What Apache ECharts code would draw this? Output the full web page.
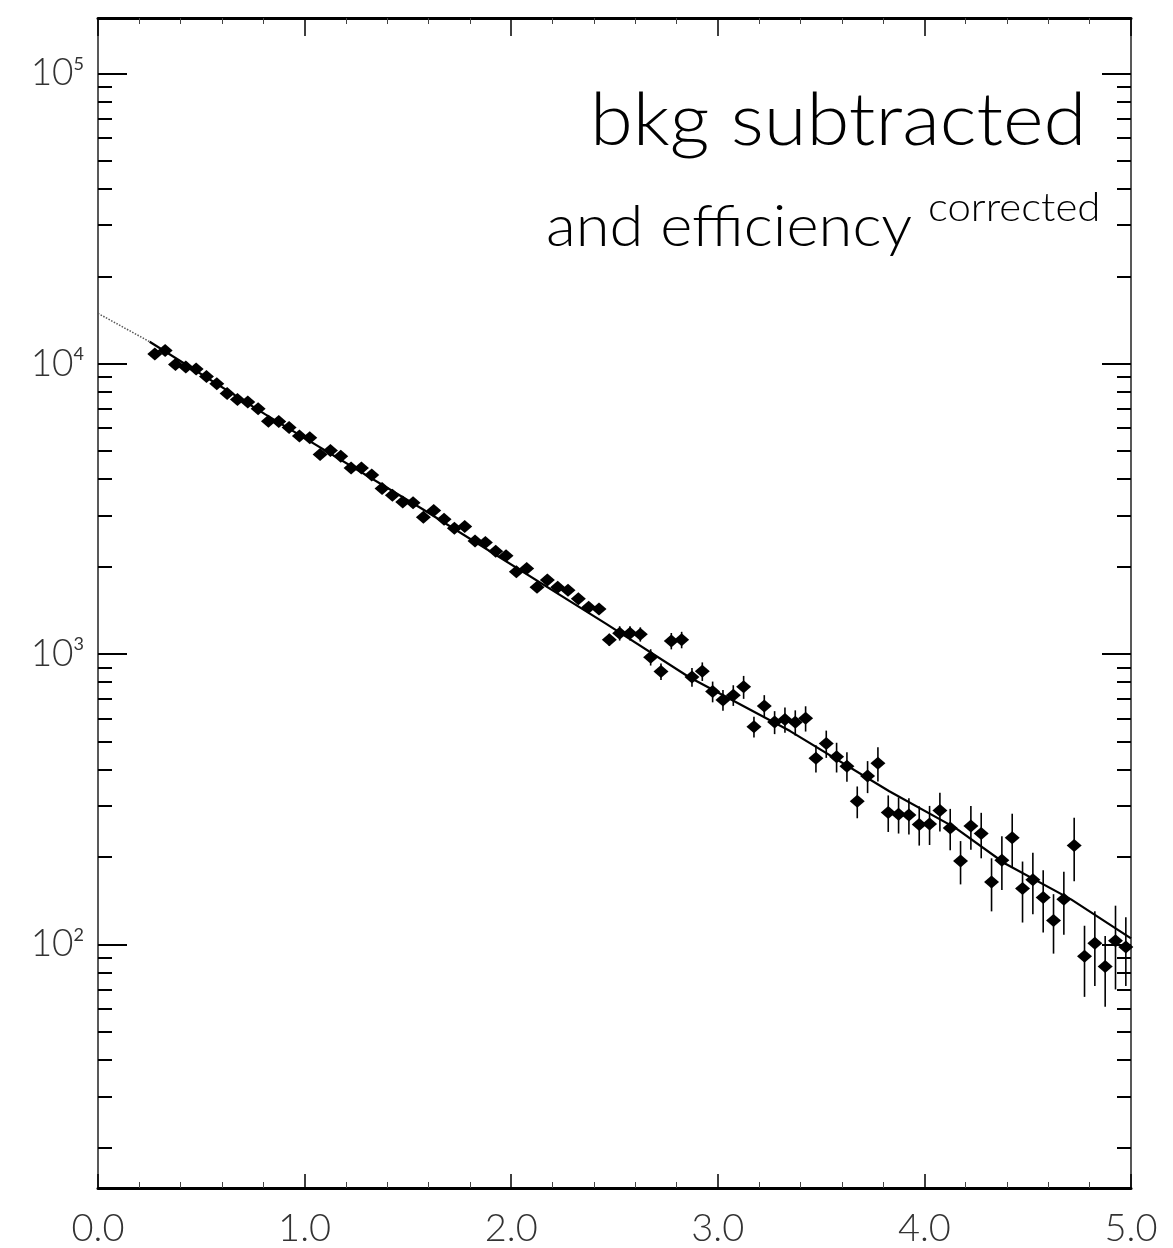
<!DOCTYPE html>
<html>
<head>
<meta charset="utf-8">
<script src="https://cdn.jsdelivr.net/npm/echarts@6/dist/echarts.min.js"></script>
<style>
html,body{margin:0;padding:0;background:#fff;}
#chart{width:1173px;height:1248px;}
</style>
</head>
<body>
<div id="chart"></div>
<script>
// ---- data ----
const xValues = [
  0.275,0.325,0.375,0.425,0.475,0.525,0.575,0.625,0.675,0.725,
  0.775,0.825,0.875,0.925,0.975,1.025,1.075,1.125,1.175,1.225,
  1.275,1.325,1.375,1.425,1.475,1.525,1.575,1.625,1.675,1.725,
  1.775,1.825,1.875,1.925,1.975,2.025,2.075,2.125,2.175,2.225,
  2.275,2.325,2.375,2.425,2.475,2.525,2.575,2.625,2.675,2.725,
  2.775,2.825,2.875,2.925,2.975,3.025,3.075,3.125,3.175,3.225,
  3.275,3.325,3.375,3.425,3.475,3.525,3.575,3.625,3.675,3.725,
  3.775,3.825,3.875,3.925,3.975,4.025,4.075,4.125,4.175,4.225,
  4.275,4.325,4.375,4.425,4.475,4.525,4.575,4.625,4.675,4.725,
  4.775,4.825,4.875,4.925,4.975
];
const yValues = [
  10800,11100,9940,9740,9580,9030,8520,7900,7520,7380,
  6990,6340,6320,6030,5640,5560,4870,5020,4800,4370,
  4370,4140,3720,3520,3340,3320,2960,3120,2910,2710,
  2750,2450,2420,2260,2180,1920,1970,1700,1800,1700,
  1660,1550,1450,1430,1120,1180,1180,1170,976,871,
  1110,1120,834,872,743,695,722,771,562,662,
  583,595,582,601,438,492,443,411,311,380,
  421,285,281,279,259,260,289,252,194,256,
  241,164,195,233,156,167,145,121,143,219,
  91,101,84,103,98
];
const yErrors = [
  160,170,150,150,150,140,135,130,125,125,
  120,115,115,110,105,105,100,100,98,95,
  95,92,88,85,83,83,78,80,77,75,
  75,72,71,70,68,65,66,62,63,62,
  61,59,57,57,54,67,67,66,63,57,
  72,73,62,64,61,57,59,70,46,60,
  53,59,58,60,47,53,52,48,39,48,
  57,41,40,40,40,40,44,41,33,44,
  43,34,41,49,37,40,35,28,35,54,
  25,29,23,33,26
];
// fitted curve (solid) and its extrapolation to 0 (dotted)
const fitX = [0.25, 0.81, 1.57, 2.46, 2.86, 3.35, 3.83, 4.15, 4.39, 4.71, 5.0];
const fitY = [11900, 6690, 3160, 1270, 834, 543, 337, 252, 190, 143, 105];
const extX = [0.0, 0.25];
const extY = [14900, 11900];
// axis ticks
const xTickLabels = ['0.0','1.0','2.0','3.0','4.0','5.0'];
const yMajorTicks = [100, 1000, 10000, 100000];
const yMajorLabels = ['2','3','4','5'];
const yMinorTicks = [
  20,30,40,50,60,70,80,90,
  200,300,400,500,600,700,800,900,
  2000,3000,4000,5000,6000,7000,8000,9000,
  20000,30000,40000,50000,60000,70000,80000,90000
];
const noteLine1 = 'bkg subtracted';
const noteLine2a = 'and efficiency';
const noteLine2b = 'corrected';

// ---- build ----
const points = xValues.map((x, i) => [x, yValues[i]]);
const bars = xValues.map((x, i) => [x, yValues[i], yErrors[i]]);
const fit = fitX.map((x, i) => [x, fitY[i]]);
const ext = extX.map((x, i) => [x, extY[i]]);

const Y_MIN = 14.5, Y_MAX = 155000;
const labelFont = 'Lato';
const ink = '#000';

function yAxisDef(pos, major) {
  return {
    type: 'log', logBase: 10, min: Y_MIN, max: Y_MAX, position: pos,
    axisLine: { show: major, lineStyle: { color: '#222', width: 1.5 } },
    axisTick: { show: true, inside: true, length: major ? 29 : 14,
      customValues: major ? yMajorTicks : yMinorTicks,
      lineStyle: { color: ink, width: 2 } },
    axisLabel: (major && pos === 'left') ? {
      show: true, customValues: yMajorTicks, margin: 14,
      formatter: function (v) {
        const idx = yMajorTicks.indexOf(v);
        return '{b|10}{s|' + (idx >= 0 ? yMajorLabels[idx] : '') + '}';
      },
      rich: {
        b: { fontSize: 37, fontFamily: labelFont, fontWeight: 300, color: '#333' },
        s: { fontSize: 18, fontFamily: labelFont, color: '#333', verticalAlign: 'top' }
      }
    } : { show: false },
    splitLine: { show: false },
    minorTick: { show: false },
    minorSplitLine: { show: false }
  };
}

function xAxisDef(pos) {
  return {
    type: 'value', min: 0, max: 5, interval: 1, position: pos,
    axisLine: { show: true, onZero: false, lineStyle: { color: ink, width: 3 } },
    axisTick: { show: true, inside: true, length: pos === 'bottom' ? 14 : 18,
      lineStyle: { color: ink, width: 1.5 } },
    minorTick: { show: true, splitNumber: 5, length: 6, lineStyle: { color: '#444', width: 1 } },
    axisLabel: pos === 'bottom' ? {
      show: true, margin: 22, fontSize: 38, fontFamily: labelFont, fontWeight: 300, color: '#333',
      formatter: function (v) { return xTickLabels[Math.round(v)]; }
    } : { show: false },
    splitLine: { show: false }
  };
}

const chart = echarts.init(document.getElementById('chart'), null, { renderer: 'canvas' });
chart.setOption({
  backgroundColor: '#fff',
  animation: false,
  grid: { left: 98, right: 42, top: 18, bottom: 58, containLabel: false },
  xAxis: [xAxisDef('bottom'), xAxisDef('top')],
  yAxis: [yAxisDef('left', true), yAxisDef('left', false), yAxisDef('right', true), yAxisDef('right', false)],
  graphic: [
    { type: 'text', x: 590, y: 86, scaleX: 1.08, z: 10,
      style: { text: noteLine1, fontSize: 72, fontFamily: 'Lato', fontWeight: 300, fill: '#000' } },
    { type: 'text', x: 546, y: 198, scaleX: 1.06, z: 10,
      style: { text: noteLine2a, fontSize: 58, fontFamily: 'Lato', fontWeight: 300, fill: '#000' } },
    { type: 'text', x: 928, y: 188, scaleX: 1.05, z: 10,
      style: { text: noteLine2b, fontSize: 40, fontFamily: 'Lato', fontWeight: 300, fill: '#000' } }
  ],
  series: [
    { type: 'line', name: 'extrapolation', data: ext, showSymbol: false, symbol: 'none',
      xAxisIndex: 0, yAxisIndex: 0,
      lineStyle: { color: '#555', width: 1.5, type: 'dotted' }, z: 2 },
    { type: 'line', name: 'fit', data: fit, showSymbol: false, symbol: 'none',
      xAxisIndex: 0, yAxisIndex: 0,
      lineStyle: { color: ink, width: 2.2 }, z: 3 },
    { type: 'custom', name: 'errors', data: bars, xAxisIndex: 0, yAxisIndex: 0,
      encode: { x: 0, y: 1 }, z: 4,
      renderItem: function (params, api) {
        const x = api.value(0), y = api.value(1), e = api.value(2);
        const lo = Math.max(y - e, Y_MIN);
        const p1 = api.coord([x, lo]);
        const p2 = api.coord([x, y + e]);
        return { type: 'line', shape: { x1: p1[0], y1: p1[1], x2: p2[0], y2: p2[1] },
          style: { stroke: ink, lineWidth: 1.6 } };
      } },
    { type: 'scatter', name: 'data', data: points, xAxisIndex: 0, yAxisIndex: 0,
      symbol: 'diamond', symbolSize: [15, 13],
      itemStyle: { color: '#000', opacity: 1 }, z: 5 }
  ]
});
</script>
</body>
</html>
